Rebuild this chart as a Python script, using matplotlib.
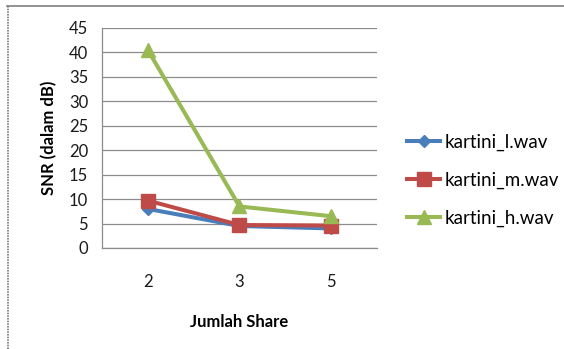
import matplotlib
matplotlib.use("Agg")
import matplotlib.pyplot as plt
from matplotlib.lines import Line2D

plt.rcParams['font.family'] = ['Lato', 'DejaVu Sans']

categories = ["2", "3", "5"]
snr_l = [8.0, 4.5, 4.0]
snr_m = [9.7, 4.7, 4.6]
snr_h = [40.5, 8.5, 6.5]
series_names = ["kartini_l.wav", "kartini_m.wav", "kartini_h.wav"]
y_ticks = [0, 5, 10, 15, 20, 25, 30, 35, 40, 45]

colors = ["#4A7EBB", "#BE4B48", "#98B954"]
markers = ["D", "s", "^"]
msizes = [6.5, 10, 10]

fig = plt.figure(figsize=(5.64, 3.49), dpi=100)
W, H = 564, 349
ax = fig.add_axes([102 / W, 1 - 248 / H, (377 - 102) / W, (248 - 28) / H])

x = list(range(len(categories)))
for vals, c, m, ms, name in zip([snr_l, snr_m, snr_h], colors, markers, msizes, series_names):
    ax.plot(x, vals, color=c, lw=2.9, marker=m, ms=ms, mec=c, mfc=c, label=name,
            solid_capstyle="round", zorder=3)

ax.set_xlim(-0.5, len(categories) - 0.5)
ax.set_ylim(0, 45)
ax.set_yticks(y_ticks)
ax.set_xticks(x)
ax.set_xticklabels(categories)
ax.yaxis.grid(True, color="#8c8c8c", lw=0.9)
ax.set_axisbelow(True)
for s in ["top", "right"]:
    ax.spines[s].set_visible(False)
for s in ["left", "bottom"]:
    ax.spines[s].set_color("#8c8c8c")
    ax.spines[s].set_linewidth(0.9)
ax.tick_params(axis="both", length=0, labelsize=12, colors="#1a1a1a")
ax.tick_params(axis="x", pad=19)
ax.tick_params(axis="y", pad=10)
ax.set_xlabel("Jumlah Share", fontsize=12, fontweight="bold", labelpad=17)
ax.set_ylabel("SNR (dalam dB)", fontsize=12, fontweight="bold", labelpad=8)

handles = [Line2D([0], [0], color=c, lw=2.9, marker=m, ms=ms, mec=c, mfc=c)
           for c, m, ms in zip(colors, markers, msizes)]
fig.legend(handles, series_names, loc="upper left",
           bbox_to_anchor=(401 / W, 1 - 128 / H), frameon=False,
           fontsize=13.5, handlelength=1.8, handletextpad=0.2, labelspacing=1.1,
           borderaxespad=0, borderpad=0.3)

# frame lines along the top and left edges
fig.add_artist(Line2D([7 / W, 1], [1 - 6 / H, 1 - 6 / H], color="#7f7f7f", lw=1.2))
fig.add_artist(Line2D([7.5 / W, 7.5 / W], [0, 1 - 6 / H], color="#7f7f7f", lw=1.2,
                      linestyle=(0, (1, 0.6))))

fig.savefig("out.png", dpi=100)
